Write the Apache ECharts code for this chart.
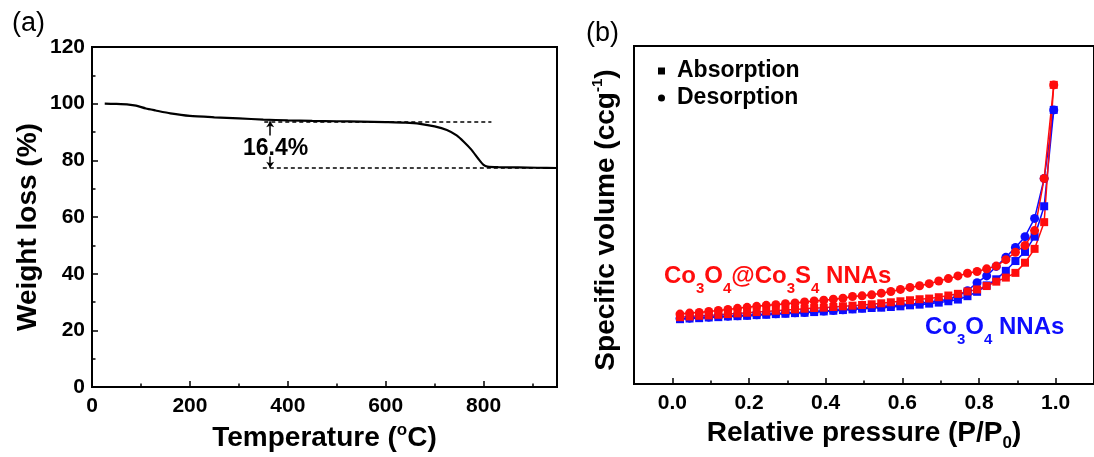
<!DOCTYPE html>
<html>
<head>
<meta charset="utf-8">
<script src="https://cdn.jsdelivr.net/npm/echarts@6/dist/echarts.min.js"></script>
<style>
  html, body { margin: 0; padding: 0; background: #fff; }
  #chart { width: 1094px; height: 457px; }
</style>
</head>
<body>
<div id="chart"></div>
<script>
const FONT = "'Liberation Sans', Arial, Helvetica, sans-serif";
const RED = '#ff0d0d';
const BLUE = '#0d0dff';

// ---- (a) thermogravimetric curve ----
const tgaTemp   = [26, 50, 75, 90, 110, 130, 160, 200, 250, 300, 350, 400, 450, 500, 550,
                   600, 640, 670, 700, 725, 745, 760, 775, 790, 800, 808, 830, 870, 910, 950];
const tgaWeight = [100, 99.9, 99.7, 99.3, 98.3, 97.6, 96.6, 95.7, 95.2, 94.8, 94.4, 94.1, 93.9, 93.8, 93.7,
                   93.5, 93.3, 92.9, 92.0, 90.7, 88.8, 86.5, 83.8, 80.4, 78.4, 77.8, 77.6, 77.5, 77.4, 77.3];
const tempLabelTicks = [0, 200, 400, 600, 800];
const tempMinorTicks = [100, 300, 500, 700, 900];
const plateauLevel = 93.8;       // weight before the decomposition step
const residueLevel = 77.4;       // weight after the step
const plateauSpan = [352, 816];
const residueSpan = [349, 950];
const stepTemp = 364;            // where the double arrow sits
const lossLabel = '16.4%';

// ---- (b) N2 adsorption / desorption isotherms ----
const relPressure = [0.02, 0.045, 0.07, 0.095, 0.12, 0.145, 0.17, 0.195, 0.22, 0.245,
                     0.27, 0.295, 0.32, 0.345, 0.37, 0.395, 0.42, 0.445, 0.47, 0.495,
                     0.52, 0.545, 0.57, 0.595, 0.62, 0.645, 0.67, 0.695, 0.72, 0.745,
                     0.77, 0.795, 0.82, 0.845, 0.87, 0.895, 0.92, 0.945, 0.97, 0.995];
const coreShellAds = [19.8, 20.0, 20.2, 20.3, 20.5, 20.7, 20.9, 21.1, 21.3, 21.5,
                      21.7, 21.9, 22.1, 22.3, 22.5, 22.6, 22.8, 23.0, 23.2, 23.4,
                      23.6, 23.9, 24.2, 24.5, 24.8, 25.1, 25.3, 25.7, 26.2, 26.7,
                      27.4, 28.0, 29.0, 30.3, 31.5, 32.9, 35.9, 40.0, 47.9, 88.5];
const coreShellDes = [20.7, 21.0, 21.2, 21.5, 21.8, 22.1, 22.4, 22.7, 23.0, 23.3,
                      23.5, 23.8, 24.0, 24.3, 24.6, 24.8, 25.1, 25.4, 25.9, 26.1,
                      26.4, 26.9, 27.4, 28.0, 28.6, 29.1, 29.7, 30.5, 31.2, 32.0,
                      32.8, 33.3, 34.1, 34.9, 36.8, 39.0, 41.0, 45.4, 60.8, 88.5];
const oxideAds = [19.2, 19.4, 19.5, 19.7, 19.8, 20.0, 20.1, 20.2, 20.4, 20.5,
                  20.7, 20.8, 21.0, 21.1, 21.3, 21.5, 21.7, 21.9, 22.1, 22.3,
                  22.5, 22.6, 22.8, 23.0, 23.3, 23.5, 23.8, 24.1, 24.5, 25.0,
                  26.0, 27.3, 29.2, 31.0, 33.5, 36.4, 39.1, 43.6, 52.6, 81.1];
const oxideDes = [19.4, 19.5, 19.7, 19.8, 20.0, 20.1, 20.2, 20.4, 20.5, 20.7,
                  20.8, 21.0, 21.1, 21.2, 21.5, 21.6, 21.8, 22.0, 22.3, 22.5,
                  22.7, 22.9, 23.1, 23.4, 23.6, 23.9, 24.2, 24.6, 25.1, 26.0,
                  27.6, 30.0, 32.0, 34.8, 37.5, 40.4, 43.6, 49.0, 60.8, 81.1];
const pressureLabelTicks = [0, 0.2, 0.4, 0.6, 0.8, 1.0];
const pressureMinorTicks = [0.1, 0.3, 0.5, 0.7, 0.9];

const zip = (xs, ys) => xs.map((x, i) => [x, ys[i]]);

const txt = (size, extra) => Object.assign({ fontFamily: FONT, fontWeight: 'bold', fontSize: size, color: '#000' }, extra || {});

function minorAxis(grid, min, max, ticks) {
  return {
    type: 'value', gridIndex: grid, min: min, max: max, position: 'bottom',
    axisLine: { show: false }, axisLabel: { show: false }, splitLine: { show: false },
    axisTick: { show: true, inside: true, length: 3.5, customValues: ticks, lineStyle: { color: '#000', width: 1.5 } }
  };
}

function isoSeries(name, symbol, size, color, values) {
  return {
    name: name, type: 'line', xAxisIndex: 2, yAxisIndex: 1,
    data: zip(relPressure, values),
    symbol: symbol, symbolSize: size, showAllSymbol: true,
    itemStyle: { color: color, borderWidth: 0 },
    lineStyle: { color: color, width: 1.5 },
    emphasis: { disabled: true }, z: 3
  };
}

const chart = echarts.init(document.getElementById('chart'), null, { renderer: 'canvas' });

chart.setOption({
  animation: false,
  backgroundColor: '#fff',
  textStyle: { fontFamily: FONT },
  grid: [
    { left: 92, top: 47, right: 537, bottom: 64, show: true, borderColor: '#000', borderWidth: 2 },
    { left: 634, top: 46, right: -6, bottom: 64, show: true, borderColor: '#000', borderWidth: 2 }
  ],
  legend: {
    orient: 'vertical', left: 653, top: 54, itemWidth: 7, itemHeight: 7, itemGap: 3,
    selectedMode: false,
    textStyle: txt(23, { lineHeight: 24, padding: [0, 0, 0, 7] }),
    data: [{ name: 'Absorption', icon: 'rect' }, { name: 'Desorption', icon: 'circle' }]
  },
  xAxis: [
    {
      type: 'value', gridIndex: 0, min: 0, max: 950,
      name: '{m|Temperature (}{s|o}{m|C)}', nameLocation: 'middle', nameGap: 28,
      nameTextStyle: { rich: { m: txt(28, { verticalAlign: 'bottom', lineHeight: 30 }), s: txt(17, { verticalAlign: 'top', lineHeight: 18 }) } },
      axisLine: { show: true, lineStyle: { color: '#000', width: 2 } },
      axisTick: { show: true, inside: true, length: 6, customValues: tempLabelTicks, lineStyle: { color: '#000', width: 1.5 } },
      axisLabel: { customValues: tempLabelTicks, margin: 9, ...txt(21) },
      splitLine: { show: false }
    },
    minorAxis(0, 0, 950, tempMinorTicks),
    {
      type: 'value', gridIndex: 1, min: -0.1, max: 1.1,
      name: '{m|Relative pressure (P/P}{s|0}{m|)}', nameLocation: 'middle', nameGap: 28,
      nameTextStyle: { rich: { m: txt(28, { verticalAlign: 'top', lineHeight: 30 }), s: txt(17, { verticalAlign: 'top', lineHeight: 18, padding: [16, 0, 0, 0] }) } },
      axisLine: { show: true, onZero: false, lineStyle: { color: '#000', width: 2 } },
      axisTick: { show: true, inside: true, length: 6, customValues: pressureLabelTicks, lineStyle: { color: '#000', width: 1.5 } },
      axisLabel: { customValues: pressureLabelTicks, margin: 9, formatter: v => v.toFixed(1), ...txt(21) },
      splitLine: { show: false }
    },
    minorAxis(1, -0.1, 1.1, pressureMinorTicks)
  ],
  yAxis: [
    {
      type: 'value', gridIndex: 0, min: 0, max: 120, interval: 20,
      name: 'Weight loss (%)', nameLocation: 'middle', nameGap: 50,
      nameTextStyle: txt(28, { padding: [0, 20, 0, 0] }),
      axisLine: { show: true, lineStyle: { color: '#000', width: 2 } },
      axisTick: { show: true, inside: true, length: 6, lineStyle: { color: '#000', width: 1.5 } },
      minorTick: { show: true, splitNumber: 2, length: 3.5, lineStyle: { color: '#000', width: 1.5 } },
      axisLabel: { margin: 7, ...txt(21) },
      splitLine: { show: false }
    },
    {
      type: 'value', gridIndex: 1, min: 0, max: 100,
      name: '{m|Specific volume (ccg}{s|-1}{m|)}', nameLocation: 'middle', nameGap: 14,
      nameTextStyle: { padding: [0, 10, 0, 0], rich: { m: txt(28, { verticalAlign: 'bottom', lineHeight: 30 }), s: txt(15, { verticalAlign: 'top', lineHeight: 16 }) } },
      axisLine: { show: true, onZero: false, lineStyle: { color: '#000', width: 2 } },
      axisTick: { show: false }, axisLabel: { show: false }, splitLine: { show: false }
    }
  ],
  series: [
    {
      name: 'TGA', type: 'line', xAxisIndex: 0, yAxisIndex: 0,
      data: zip(tgaTemp, tgaWeight), smooth: 0.2, showSymbol: false,
      lineStyle: { color: '#000', width: 2.2 }, emphasis: { disabled: true },
      markLine: {
        silent: true, symbol: 'none', animation: false,
        label: { show: false },
        lineStyle: { color: '#000', width: 1.5, type: [4, 3] },
        data: [
          [{ coord: [plateauSpan[0], plateauLevel] }, { coord: [plateauSpan[1], plateauLevel] }],
          [{ coord: [residueSpan[0], residueLevel] }, { coord: [residueSpan[1], residueLevel] }],
          [{ coord: [stepTemp, 88.8], symbol: 'none', lineStyle: { type: 'solid', width: 1.5 } },
           { coord: [stepTemp, plateauLevel], symbol: 'arrow', symbolSize: 6 }],
          [{ coord: [stepTemp, 81.4], symbol: 'none', lineStyle: { type: 'solid', width: 1.5 } },
           { coord: [stepTemp, residueLevel], symbol: 'arrow', symbolSize: 6 }]
        ]
      },
      markPoint: {
        silent: true, symbol: 'circle', symbolSize: 0,
        label: { show: true, position: 'inside', formatter: lossLabel, ...txt(23) },
        data: [{ coord: [375, 84.2] }]
      }
    },
    { name: 'Absorption', type: 'line', xAxisIndex: 2, yAxisIndex: 1, data: [], itemStyle: { color: '#000' }, lineStyle: { color: '#000' } },
    { name: 'Desorption', type: 'line', xAxisIndex: 2, yAxisIndex: 1, data: [], itemStyle: { color: '#000' }, lineStyle: { color: '#000' } },
    isoSeries('Co3O4 desorption', 'circle', 9, BLUE, oxideDes),
    isoSeries('Co3O4 adsorption', 'rect', 8, BLUE, oxideAds),
    isoSeries('Co3O4@Co3S4 desorption', 'circle', 9, RED, coreShellDes),
    isoSeries('Co3O4@Co3S4 adsorption', 'rect', 8, RED, coreShellAds)
  ],
  graphic: [
    { type: 'text', left: 12, top: 10, style: { text: '(a)', font: '500 27px ' + FONT, fill: '#000' } },
    { type: 'text', left: 586, top: 20, style: { text: '(b)', font: '500 27px ' + FONT, fill: '#000' } },
    {
      type: 'text', left: 664, top: 264, z: 10,
      style: {
        text: '{m|Co}{s|3}{m|O}{s|4}{m|@Co}{s|3}{m|S}{s|4}{m| NNAs}',
        rich: {
          m: { fontFamily: FONT, fontWeight: 'bold', fontSize: 24, fill: RED, lineHeight: 26, verticalAlign: 'top' },
          s: { fontFamily: FONT, fontWeight: 'bold', fontSize: 15, fill: RED, lineHeight: 16, verticalAlign: 'top', padding: [17, 0, 0, 0] }
        }
      }
    },
    {
      type: 'text', left: 925, top: 315, z: 10,
      style: {
        text: '{m|Co}{s|3}{m|O}{s|4}{m| NNAs}',
        rich: {
          m: { fontFamily: FONT, fontWeight: 'bold', fontSize: 24, fill: BLUE, lineHeight: 26, verticalAlign: 'top' },
          s: { fontFamily: FONT, fontWeight: 'bold', fontSize: 15, fill: BLUE, lineHeight: 16, verticalAlign: 'top', padding: [17, 0, 0, 0] }
        }
      }
    }
  ]
});
</script>
</body>
</html>
